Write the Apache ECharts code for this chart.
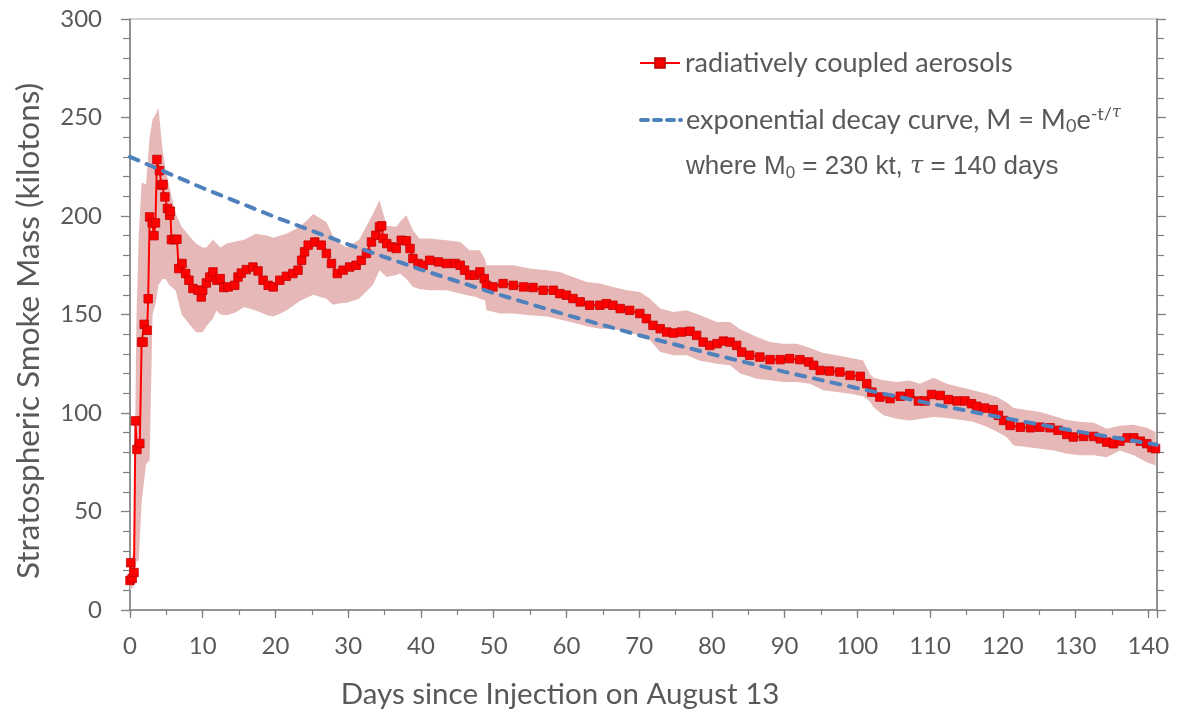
<!DOCTYPE html>
<html>
<head>
<meta charset="utf-8">
<script src="https://cdn.jsdelivr.net/npm/echarts@6/dist/echarts.min.js"></script>
<style>
html,body{margin:0;padding:0;background:#fff;}
#chart{width:1178px;height:715px;}
</style>
</head>
<body>
<div id="chart"></div>
<script>
// ---- Data ----
// Red series: radiatively coupled aerosols [day, kilotons]
const aerosolDays = [0,0.1,0.3,0.55,0.75,0.95,1.35,1.6,1.8,1.95,2.35,2.5,2.7,3.05,3.3,3.5,3.7,4.05,4.35,4.55,4.8,5.15,5.45,5.55,5.7,6.1,6.45,6.7,7.15,7.65,8.1,8.65,9.35,9.8,10.0,10.5,10.95,11.4,11.95,12.4,12.9,13.5,14.4,14.85,15.3,16,16.9,17.6,18.3,19,19.7,20.6,21.5,22.4,23.1,23.6,24,24.5,25.4,26.3,27,27.7,28.5,29.3,30.2,31.1,31.8,32.5,33.2,33.8,34.3,34.6,34.8,35.3,36,36.6,37.3,38,38.5,38.9,39.6,40.3,41.2,42.4,43.5,44.7,45.4,46,46.7,47.4,48.1,48.7,49,49.9,51.3,52.7,54.1,55.4,56.8,58.2,59.1,60,60.9,61.9,63.2,64.6,65.5,66.4,67.4,68.7,70.1,71,71.9,72.9,73.8,74.7,75.8,77,77.9,78.8,79.7,80.7,81.6,82.5,83.4,84.1,85.2,86.6,88,89.4,90.7,92.1,93.3,94,94.9,96.2,97.6,99,100.4,101.3,102,103.1,104.5,105.9,107.2,108.4,109.3,110.2,111.4,112.5,113.7,114.8,115.7,116.4,117.5,118.7,119.4,120.1,121,122.4,123.8,125.1,126.5,127.6,128.8,129.7,131.1,132.5,133.4,134.3,135.2,136.1,137.1,138,138.9,139.8,140.5,141];
const aerosolMass = [15,24,16,19,96,81.5,84.5,136,136,145,142,158,199.5,196.5,190,196.5,228.7,223,215.7,216,209.7,203.8,200.4,202.4,188,188,188.2,173.3,175.9,170.8,167.4,163.2,162.3,158.9,162.3,166,169,171.6,167.4,168.2,163.7,164,164.8,169,171,172.8,174.1,172.1,167.4,164.8,164,167.4,169.4,170.8,172.5,177.5,181.8,185.2,186.8,185.2,181,175.9,170.8,172.5,174.1,175,177.5,181,186.8,190.2,194.5,195,188.6,186,184.3,183.5,187.7,187.4,183.5,178.4,175.9,175,177.5,176.7,175.9,175.9,175,172.5,170,170,171.6,168.2,164.8,164,165.7,164.8,164,163.7,162.3,162.3,160.6,159.8,158.1,156.4,154.7,154.7,155.5,154.7,153,152.1,150.5,147.9,144.5,142.8,141.1,140.6,141.1,141.5,139.4,136,134.3,135.2,136.5,136,134.3,130.9,129.3,128.4,127.1,127.1,127.6,127.1,125.9,124.2,121.6,121.3,120.8,119.1,118.6,114.9,110.6,108.1,107.3,108.5,109.8,106.1,106.1,109.4,108.9,106.8,106.1,106.1,104.7,103.4,102.5,101.7,98.8,96.2,93.7,92.8,92.5,92.8,92.5,91.2,89.1,87.8,88.1,88.1,86.9,85.2,84.4,85.7,87.4,87.4,85.7,84.4,82.4,81.9];

// Shaded spread band [day, lower, upper]
const bandDays  = [0,0.5,0.9,1.2,1.6,2.2,2.7,3.1,3.6,3.9,4.5,4.9,5.4,6.3,7.1,8.6,9.1,10,10.5,11.4,11.9,12.4,13.3,14.5,15.7,17.3,18.9,19.7,20.6,21.5,23.4,25.2,27,27.9,28.9,29.8,31.5,33.4,34.3,35.3,36.6,37.1,38,38.9,39.8,41.2,43.5,45.4,46.7,47.6,48.1,48.8,49,50.9,52.7,55,57.3,59.1,60.9,62.8,64.6,66.4,68.3,70.1,71.5,72.9,74.7,76.5,78.4,80.7,82.5,83.9,86.2,88,89.8,91.7,93.5,95.3,97.2,99,100.8,101.7,102.2,103.6,105.4,107.2,108.6,110.5,112.3,114.1,115.9,117.8,119.2,120.5,121.5,123.3,125.1,127,128.8,130.6,132.5,134.3,136.1,138,139.8,141];
const bandLower = [10,12,25,25,55,74,76,150,157,165,168,168,165,162,150,143,141,141,144,148,152,150,149.6,151,153.8,152,149.6,149,150.4,152,157,160,158,155,155.7,156,158,165,172.5,169,170,170.8,168,164,163,162.3,162.3,160.6,159.5,158.9,158,157.2,152.1,150.5,150.5,149.6,149,147.5,146,144,142.8,142.8,141.1,139.4,136.9,131,129.3,129.3,126.5,125,124.2,120,117.4,116.6,115.7,115.7,114.9,111.5,110.6,109.8,108.5,106,103,98.8,97.1,96.2,97,98,97.5,96.6,95.5,93,90.5,87.8,83.5,82.7,81.9,81,79.3,78.5,78.5,77.6,81,78.5,75,73.4];
const bandUpper = [22,30,150,190,217,216,240,249,252,255,233,224,215,201,194.5,188,186,184,184,188,186,184,186,187,188,191,190,189,190,191,194.5,201,197,190,186,184,188,201,208,195,194.5,197,200.4,192.8,188.6,188.6,187.7,186.8,182.6,182.6,182.6,178,175,175,175,173.3,172.5,171.6,169,166.5,165.7,164,162.3,161.4,158,153,151.3,152.1,149.6,146.2,146.2,142.5,138.6,136,135.2,135.2,133,130.5,129.3,128,126.7,120,118,116.6,115.7,116.5,114.9,117.9,114.9,113.2,111.5,109.8,108.1,105.5,102.5,101.5,100.5,98.5,96.5,95.6,95,92,93.5,94,92.5,90.3];

// Blue dashed decay curve, values read every 10 days
const decayDays = [0,10,20,30,40,50,60,70,80,90,100,110,120,130,140,141.2];
const decayMass = [230,214.2,199.4,185.6,172.8,160.9,149.8,139.5,129.9,120.9,112.6,104.8,97.6,90.8,84.6,83.9];

const xTicks = [0,10,20,30,40,50,60,70,80,90,100,110,120,130,140];
const yTicks = [0,50,100,150,200,250,300];

const NAME_RED = 'radiatively coupled aerosols';
const NAME_BLUE = 'exponential decay curve';

// ---- build option ----
const pair = (xs, ys) => xs.map((x, i) => [x, ys[i]]);

const axisCol = '#808080';
const textCol = '#595959';
const FONT = 'Lato, "Open Sans", sans-serif';
const X_MAX = 141.2;

function renderBand(params, api) {
  if (params.dataIndex !== 0) return null;
  const pts = [];
  for (let i = 0; i < bandDays.length; i++) pts.push(api.coord([bandDays[i], bandUpper[i]]));
  for (let i = bandDays.length - 1; i >= 0; i--) pts.push(api.coord([bandDays[i], bandLower[i]]));
  return {type: 'polygon', shape: {points: pts}, style: {fill: 'rgb(230,185,184)'}, silent: true};
}

const chart = echarts.init(document.getElementById('chart'), null, {renderer: 'canvas'});
chart.setOption({
  animation: false,
  backgroundColor: '#ffffff',
  grid: {left: 130, right: 21, top: 19, bottom: 105, show: true, borderColor: '#a6a6a6', borderWidth: 1},
  xAxis: [
    {
      type: 'value', min: 0, max: X_MAX, interval: 10, position: 'bottom',
      axisLine: {show: true, onZero: false, lineStyle: {color: axisCol, width: 1.6}},
      axisTick: {show: true, inside: false, length: 8, lineStyle: {color: axisCol, width: 1.3}},
      splitLine: {show: false},
      axisLabel: {
        margin: 24, color: textCol, fontFamily: FONT, fontSize: 24,
        formatter: v => (xTicks.indexOf(Math.round(v * 1000) / 1000) >= 0 ? String(v) : '')
      }
    },
    {
      type: 'value', min: 0, max: X_MAX, interval: 5, position: 'bottom', gridIndex: 0,
      axisLine: {show: false, onZero: false},
      axisTick: {show: true, inside: false, length: 5, lineStyle: {color: axisCol, width: 1.2}},
      splitLine: {show: false},
      axisLabel: {show: false}
    }
  ],
  yAxis: [
    {
      type: 'value', min: 0, max: 300, interval: 50, position: 'left',
      axisLine: {show: true, onZero: false, lineStyle: {color: axisCol, width: 1.6}},
      axisTick: {show: true, inside: false, length: 9, lineStyle: {color: axisCol, width: 1.3}},
      minorTick: {show: true, splitNumber: 5, length: 7, lineStyle: {color: axisCol, width: 1.2}},
      splitLine: {show: false},
      axisLabel: {
        margin: 28, color: textCol, fontFamily: FONT, fontSize: 24,
        formatter: v => (yTicks.indexOf(v) >= 0 ? String(v) : '')
      }
    },
    {
      type: 'value', min: 0, max: 300, interval: 50, position: 'right',
      axisLine: {show: true, onZero: false, lineStyle: {color: axisCol, width: 1.6}},
      axisTick: {show: true, inside: false, length: 9, lineStyle: {color: axisCol, width: 1.3}},
      minorTick: {show: true, splitNumber: 5, length: 7, lineStyle: {color: axisCol, width: 1.2}},
      splitLine: {show: false},
      axisLabel: {show: false}
    }
  ],
  legend: [
    {
      data: [NAME_RED], left: 639, top: 48, padding: 0, orient: 'vertical',
      itemWidth: 40, itemHeight: 12,
      textStyle: {color: textCol, fontFamily: FONT, fontSize: 27, lineHeight: 30}
    },
    {
      data: [NAME_BLUE], left: 639, top: 105, padding: 0, orient: 'vertical',
      itemWidth: 40, itemHeight: 12,
      itemStyle: {color: 'rgba(0,0,0,0)', borderWidth: 0, opacity: 0},
      lineStyle: {color: '#4F81BD', width: 4, type: [7, 6], cap: 'round'},
      formatter: () => 'exponential decay curve, M = M{sub|0}e{sup|-t/}{supi|τ}',
      textStyle: {
        color: textCol, fontFamily: FONT, fontSize: 27, lineHeight: 30,
        rich: {
          sub: {fontFamily: FONT, fontSize: 18, color: textCol, verticalAlign: 'bottom', lineHeight: 18},
          sup: {fontFamily: FONT, fontSize: 18, color: textCol, verticalAlign: 'top', lineHeight: 18},
          supi: {fontFamily: '"DejaVu Serif", serif', fontStyle: 'italic', fontSize: 16, color: textCol, verticalAlign: 'top', lineHeight: 18}
        }
      }
    }
  ],
  graphic: [
    {
      type: 'text', left: 686, top: 152, z: 10,
      style: {
        text: 'where M{sub|0} = 230 kt, {tau|τ} = 140 days',
        fill: textCol, font: '26px "Liberation Sans", Arial, sans-serif',
        rich: {
          sub: {fontFamily: '"Liberation Sans", Arial, sans-serif', fontSize: 17, fill: textCol, verticalAlign: 'bottom', lineHeight: 17},
          tau: {fontFamily: '"DejaVu Serif", serif', fontStyle: 'italic', fontSize: 24, fill: textCol}
        },
        lineHeight: 30
      }
    },
    {
      type: 'text', x: 560, y: 694, z: 10,
      style: {text: 'Days since Injection on August 13', fill: textCol, fontFamily: FONT, fontSize: 29.5,
              align: 'center', verticalAlign: 'middle', textAlign: 'center', textVerticalAlign: 'middle'}
    },
    {
      type: 'text', x: 29, y: 331, rotation: Math.PI / 2, z: 10,
      style: {text: 'Stratospheric Smoke Mass (kilotons)', fill: textCol, fontFamily: FONT, fontSize: 31.5,
              align: 'center', verticalAlign: 'middle', textAlign: 'center', textVerticalAlign: 'middle'}
    }
  ],
  series: [
    {
      name: 'band', type: 'custom', coordinateSystem: 'cartesian2d', xAxisIndex: 0, yAxisIndex: 0,
      data: [[bandDays[0], bandLower[0]]], renderItem: renderBand, silent: true, z: 1, clip: true
    },
    {
      name: NAME_RED, type: 'line', data: pair(aerosolDays, aerosolMass), xAxisIndex: 0, yAxisIndex: 0,
      symbol: 'rect', symbolSize: 8.5, showAllSymbol: true,
      itemStyle: {color: '#FF0000', borderColor: '#C00000', borderWidth: 0.8},
      lineStyle: {color: '#FF0000', width: 2}, z: 3
    },
    {
      name: NAME_BLUE, type: 'line', data: pair(decayDays, decayMass), xAxisIndex: 0, yAxisIndex: 0,
      symbol: 'none', smooth: false,
      itemStyle: {color: '#4F81BD'},
      lineStyle: {color: '#4F81BD', width: 4, type: [9, 9], cap: 'round'}, z: 4
    }
  ]
});
</script>
</body>
</html>
